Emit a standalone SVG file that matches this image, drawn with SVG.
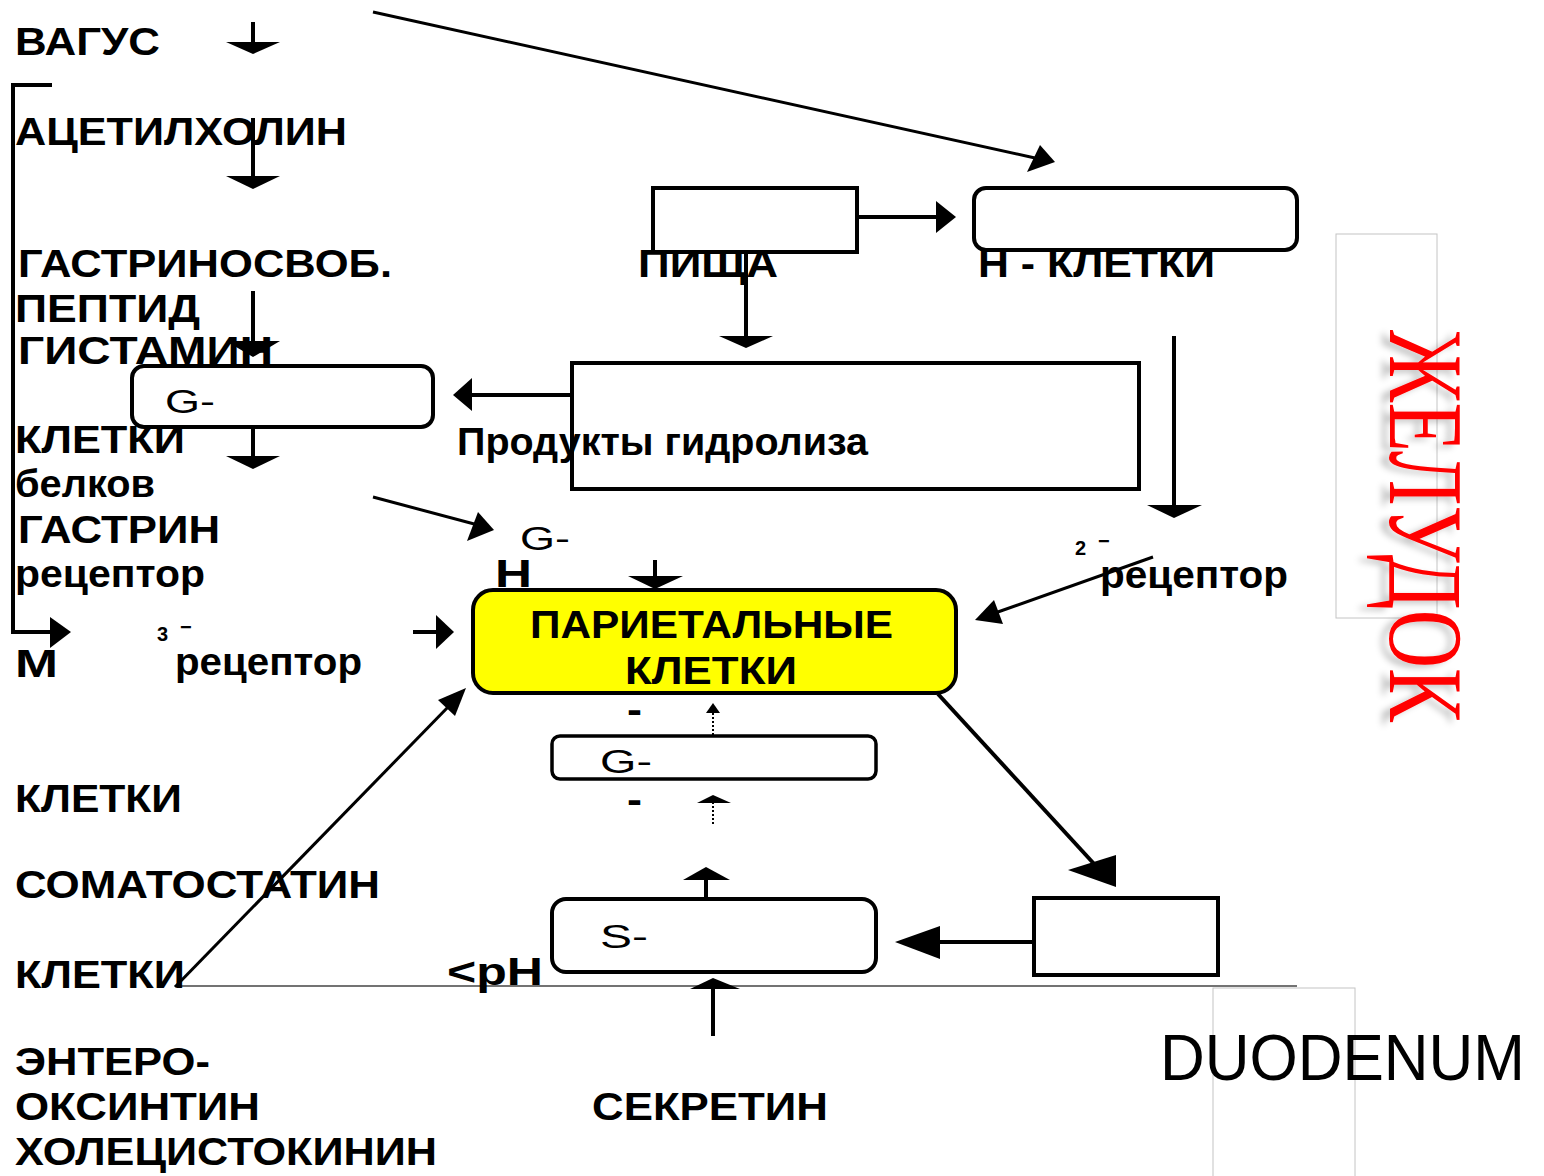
<svg xmlns="http://www.w3.org/2000/svg" width="1544" height="1176" viewBox="0 0 1544 1176">
<style>
.t{font-family:"Liberation Sans",Arial,sans-serif;font-size:39px;font-weight:bold;fill:#000}
.s{font-family:"Liberation Sans",Arial,sans-serif;font-size:33px;fill:#000}
.sup{font-family:"Liberation Sans",Arial,sans-serif;font-size:20px;font-weight:bold;fill:#000}
.box{fill:#fff;stroke:#000;stroke-width:4}
.ln{stroke:#000;stroke-width:4;fill:none}
.thin{stroke:#000;stroke-width:3;fill:none}
.hd{fill:#000;stroke:none}
.dot{stroke:#000;stroke-width:2;stroke-dasharray:2 2;fill:none}
</style>
<defs>
<filter id="sh" x="-20%" y="-20%" width="140%" height="160%">
<feGaussianBlur in="SourceAlpha" stdDeviation="3"/>
<feOffset dx="3" dy="8" result="o"/>
<feFlood flood-color="#000" flood-opacity="0.22"/>
<feComposite in2="o" operator="in"/>
<feMerge><feMergeNode/><feMergeNode in="SourceGraphic"/></feMerge>
</filter>
</defs>
<rect width="1544" height="1176" fill="#fff"/>

<g id="frames">
<rect x="1336" y="234" width="101" height="384" fill="none" stroke="#c4c4c4" stroke-width="1"/>
<rect x="1213" y="988" width="142" height="190" fill="none" stroke="#c4c4c4" stroke-width="1"/>
<line x1="175" y1="986" x2="1297" y2="986" stroke="#444" stroke-width="1.5"/>
</g>

<g id="labels-left">
<text class="t" x="15" y="55" textLength="145" lengthAdjust="spacingAndGlyphs">ВАГУС</text>
<text class="t" x="15" y="145" textLength="332" lengthAdjust="spacingAndGlyphs">АЦЕТИЛХОЛИН</text>
<text class="t" x="18" y="277" textLength="374" lengthAdjust="spacingAndGlyphs">ГАСТРИНОСВОБ.</text>
<text class="t" x="15" y="322" textLength="185" lengthAdjust="spacingAndGlyphs">ПЕПТИД</text>
<text class="t" x="18" y="364" textLength="255" lengthAdjust="spacingAndGlyphs">ГИСТАМИН</text>
<text class="t" x="15" y="453" textLength="170" lengthAdjust="spacingAndGlyphs">КЛЕТКИ</text>
<text class="t" x="15" y="497" textLength="140" lengthAdjust="spacingAndGlyphs">белков</text>
<text class="t" x="18" y="543" textLength="202" lengthAdjust="spacingAndGlyphs">ГАСТРИН</text>
<text class="t" x="15" y="587" textLength="190" lengthAdjust="spacingAndGlyphs">рецептор</text>
<text class="t" x="15" y="677" textLength="43" lengthAdjust="spacingAndGlyphs">М</text>
<text class="sup" x="157" y="641">3</text>
<text class="sup" x="180" y="634">−</text>
<text class="t" x="175" y="675" textLength="187" lengthAdjust="spacingAndGlyphs">рецептор</text>
<text class="t" x="15" y="812" textLength="167" lengthAdjust="spacingAndGlyphs">КЛЕТКИ</text>
<text class="t" x="15" y="898" textLength="365" lengthAdjust="spacingAndGlyphs">СОМАТОСТАТИН</text>
<text class="t" x="15" y="988" textLength="170" lengthAdjust="spacingAndGlyphs">КЛЕТКИ</text>
<text class="t" x="447" y="985" textLength="96" lengthAdjust="spacingAndGlyphs">&lt;pH</text>
<text class="t" x="15" y="1075" textLength="195" lengthAdjust="spacingAndGlyphs">ЭНТЕРО-</text>
<text class="t" x="15" y="1120" textLength="245" lengthAdjust="spacingAndGlyphs">ОКСИНТИН</text>
<text class="t" x="15" y="1165" textLength="422" lengthAdjust="spacingAndGlyphs">ХОЛЕЦИСТОКИНИН</text>
<text class="t" x="592" y="1120" textLength="236" lengthAdjust="spacingAndGlyphs">СЕКРЕТИН</text>
</g>

<g id="node-g-cells-top">
<rect class="box" x="132" y="366" width="301" height="61" rx="12"/>
<text class="s" x="165" y="413" textLength="50" lengthAdjust="spacingAndGlyphs">G-</text>
</g>

<g id="node-food">
<rect class="box" x="653" y="188" width="204" height="64"/>
<text class="t" x="638" y="277" textLength="140" lengthAdjust="spacingAndGlyphs">ПИЩА</text>
</g>

<g id="node-h-cells">
<rect class="box" x="974" y="188" width="323" height="62" rx="12"/>
<text class="t" x="978" y="277" textLength="237" lengthAdjust="spacingAndGlyphs">Н - КЛЕТКИ</text>
</g>

<g id="node-hydrolysis">
<rect class="box" x="572" y="363" width="567" height="126"/>
<text class="t" x="457" y="455" textLength="411" lengthAdjust="spacingAndGlyphs">Продукты гидролиза</text>
</g>

<g id="node-parietal">
<rect x="473" y="590" width="483" height="103" rx="20" fill="#ffff00" stroke="#000" stroke-width="4"/>
<text class="t" x="530" y="638" font-size="37" textLength="363" lengthAdjust="spacingAndGlyphs">ПАРИЕТАЛЬНЫЕ</text>
<text class="t" x="625" y="684" font-size="37" textLength="172" lengthAdjust="spacingAndGlyphs">КЛЕТКИ</text>
<text class="s" x="520" y="550" textLength="50" lengthAdjust="spacingAndGlyphs">G-</text>
<text class="t" x="495" y="587" font-size="36" textLength="37" lengthAdjust="spacingAndGlyphs">Н</text>
<text class="t" x="627" y="723" font-size="26" textLength="15" lengthAdjust="spacingAndGlyphs">-</text>
<text class="t" x="627" y="813" font-size="26" textLength="15" lengthAdjust="spacingAndGlyphs">-</text>
</g>

<g id="node-g-cells-bottom">
<rect x="552" y="736" width="324" height="43" rx="8" fill="#fff" stroke="#000" stroke-width="3.5"/>
<text class="s" x="600" y="773" textLength="52" lengthAdjust="spacingAndGlyphs">G-</text>
</g>

<g id="node-s-cells">
<rect class="box" x="552" y="899" width="324" height="73" rx="14"/>
<text class="s" x="600" y="948" textLength="48" lengthAdjust="spacingAndGlyphs">S-</text>
</g>

<g id="node-acid-box">
<rect class="box" x="1034" y="898" width="184" height="77"/>
</g>

<g id="labels-right">
<text class="sup" x="1075" y="555">2</text>
<text class="sup" x="1098" y="548">−</text>
<text class="t" x="1100" y="588" textLength="188" lengthAdjust="spacingAndGlyphs">рецептор</text>
<text x="1160" y="1080" font-family="Liberation Sans, Arial, sans-serif" font-size="64" textLength="365" lengthAdjust="spacingAndGlyphs">DUODENUM</text>
<g transform="translate(1390,330) rotate(90)">
<text x="0" y="0" font-family="Liberation Serif, Times New Roman, serif" font-size="105" fill="#ff0000" textLength="392" lengthAdjust="spacingAndGlyphs" filter="url(#sh)">ЖЕЛУДОК</text>
</g>
</g>

<g id="connectors">
<polyline class="ln" points="52,85 13,85 13,632 52,632"/>
<polygon class="hd" points="50,617 71,632 50,648"/>
<line class="ln" x1="253" y1="22" x2="253" y2="45"/>
<polygon class="hd" points="226,42 280,42 253,54"/>
<line class="ln" x1="253" y1="118" x2="253" y2="180"/>
<polygon class="hd" points="226,176 280,176 253,189"/>
<line class="ln" x1="253" y1="291" x2="253" y2="345"/>
<polygon class="hd" points="226,341 280,341 253,357"/>
<line class="ln" x1="253" y1="427" x2="253" y2="460"/>
<polygon class="hd" points="226,456 280,456 253,469"/>
<line class="thin" x1="373" y1="12" x2="1035" y2="158"/>
<polygon class="hd" points="1055,162 1027,172 1040,145"/>
<line class="ln" x1="857" y1="217" x2="940" y2="217"/>
<polygon class="hd" points="936,201 956,217 936,233"/>
<line class="ln" x1="746" y1="252" x2="746" y2="338"/>
<polygon class="hd" points="719,336 773,336 746,348"/>
<line class="ln" x1="572" y1="395" x2="470" y2="395"/>
<polygon class="hd" points="472,378 453,395 472,411"/>
<line class="ln" x1="1174" y1="336" x2="1174" y2="507"/>
<polygon class="hd" points="1147,505 1202,505 1174,518"/>
<line class="thin" x1="1153" y1="557" x2="995" y2="613"/>
<polygon class="hd" points="975,620 994,600 1003,624"/>
<line class="thin" x1="373" y1="497" x2="478" y2="525"/>
<polygon class="hd" points="494,530 467,541 478,512"/>
<line class="ln" x1="655" y1="560" x2="655" y2="580"/>
<polygon class="hd" points="628,576 683,576 655,589"/>
<line class="ln" x1="413" y1="632" x2="440" y2="632"/>
<polygon class="hd" points="436,615 454,632 436,649"/>
<line class="thin" x1="175" y1="987" x2="450" y2="705"/>
<polygon class="hd" points="466,688 455,716 438,700"/>
<line class="ln" x1="938" y1="694" x2="1096" y2="866"/>
<polygon class="hd" points="1116,887 1068,870 1116,855"/>
<line class="ln" x1="1034" y1="942" x2="935" y2="942"/>
<polygon class="hd" points="940,926 895,942 940,959"/>
<line class="dot" x1="713" y1="735" x2="713" y2="712"/>
<polygon class="hd" points="706,713 720,713 713,703"/>
<line class="dot" x1="713" y1="824" x2="713" y2="803"/>
<polygon class="hd" points="697,803 731,803 713,795"/>
<line class="ln" x1="706" y1="899" x2="706" y2="876"/>
<polygon class="hd" points="683,880 730,880 706,867"/>
<line class="ln" x1="713" y1="1036" x2="713" y2="986"/>
<polygon class="hd" points="690,989 740,989 713,978"/>
</g>
</svg>
